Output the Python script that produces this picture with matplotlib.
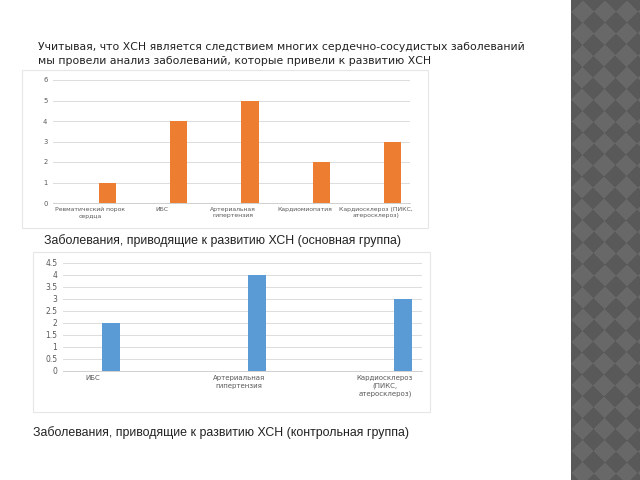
import numpy as np
import matplotlib
matplotlib.use("Agg")
import matplotlib.pyplot as plt
from matplotlib.patches import Rectangle

# data
main_labels = ["Ревматический порок\nсердца", "ИБС", "Артериальная\nгипертензия",
               "Кардиомиопатия", "Кардиосклероз (ПИКС,\nатеросклероз)"]
main_values = [1, 4, 5, 2, 3]
main_yticks = [0, 1, 2, 3, 4, 5, 6]

ctrl_labels = ["ИБС", "Артериальная\nгипертензия", "Кардиосклероз\n(ПИКС,\nатеросклероз)"]
ctrl_values = [2, 4, 3]
ctrl_yticks = [0, 0.5, 1, 1.5, 2, 2.5, 3, 3.5, 4, 4.5]
ctrl_yticklabels = ["0", "0.5", "1", "1.5", "2", "2.5", "3", "3.5", "4", "4.5"]

title_text = ("Учитывая, что ХСН является следствием многих сердечно-сосудистых заболеваний\n"
              "мы провели анализ заболеваний, которые привели к развитию ХСН")
caption_main = "Заболевания, приводящие к развитию ХСН (основная группа)"
caption_ctrl = "Заболевания, приводящие к развитию ХСН (контрольная группа)"

W, H = 640, 480
fig = plt.figure(figsize=(6.4, 4.8), dpi=100)


def px_axes(x0, y0, x1, y1, **kw):
    # pixel box (top-left origin) -> figure axes
    return fig.add_axes([x0 / W, 1 - y1 / H, (x1 - x0) / W, (y1 - y0) / H], **kw)


def px_rect(x0, y0, x1, y1):
    fig.patches.append(Rectangle((x0 / W, 1 - y1 / H), (x1 - x0) / W, (y1 - y0) / H,
                                 transform=fig.transFigure, facecolor="white",
                                 edgecolor="#e6e6e6", linewidth=0.8, zorder=-1))


# decorative side panel
side = px_axes(571, 0, 640, 480)
yy, xx = np.mgrid[0:480, 0:69]
P = 22.0
pat = np.sin(np.pi * (xx + yy + 11) / P) * np.sin(np.pi * (xx - yy + 11) / P)
side.imshow(pat > 0, cmap=matplotlib.colors.ListedColormap(["#686868", "#595959"]),
            aspect="auto", interpolation="nearest")
side.axis("off")

grey = "#595959"


def bar_chart(ax, labels, values, width, offset, color, yticks, yticklabels, xlim, fs):
    x = np.arange(len(values))
    ax.bar(x + offset, values, width=width, color=color, zorder=3)
    ax.set_xlim(*xlim)
    ax.set_ylim(yticks[0], yticks[-1])
    ax.set_yticks(yticks)
    ax.set_yticklabels(yticklabels)
    ax.set_xticks(x)
    ax.set_xticklabels(labels, fontsize=fs, color=grey, linespacing=1.3)
    ax.tick_params(axis="y", labelsize=fs + 0.5, colors=grey, length=0, pad=4)
    ax.tick_params(axis="x", length=0, pad=3)
    ax.grid(axis="y", color="#dcdcdc", linewidth=0.7, zorder=0)
    ax.patch.set_alpha(0)
    for s in ["top", "right", "left"]:
        ax.spines[s].set_visible(False)
    ax.spines["bottom"].set_color("#d0d0d0")
    ax.spines["bottom"].set_linewidth(0.7)


# main group chart
px_rect(22, 70, 428, 228)
ax1 = px_axes(53, 80, 410, 203)
bar_chart(ax1, main_labels, main_values, 0.24, 0.24, "#ED7D31",
          main_yticks, [str(v) for v in main_yticks], (-0.52, 4.48), 4.4)

# control group chart
px_rect(33, 252, 430, 412)
ax2 = px_axes(63, 263, 422, 371)
bar_chart(ax2, ctrl_labels, ctrl_values, 0.123, 0.123, "#5B9BD5",
          ctrl_yticks, ctrl_yticklabels, (-0.205, 2.253), 5.0)

# texts
fig.text(38 / W, 1 - 42 / H, title_text, fontsize=7.8, family="DejaVu Sans",
         color="#222222", va="top", ha="left", linespacing=1.55)
fig.text(44 / W, 1 - 241 / H, caption_main, fontsize=8.9, family="Liberation Sans",
         color="#222222", va="center", ha="left")
fig.text(33 / W, 1 - 433 / H, caption_ctrl, fontsize=8.9, family="Liberation Sans",
         color="#222222", va="center", ha="left")

fig.savefig("out.png", dpi=100)
